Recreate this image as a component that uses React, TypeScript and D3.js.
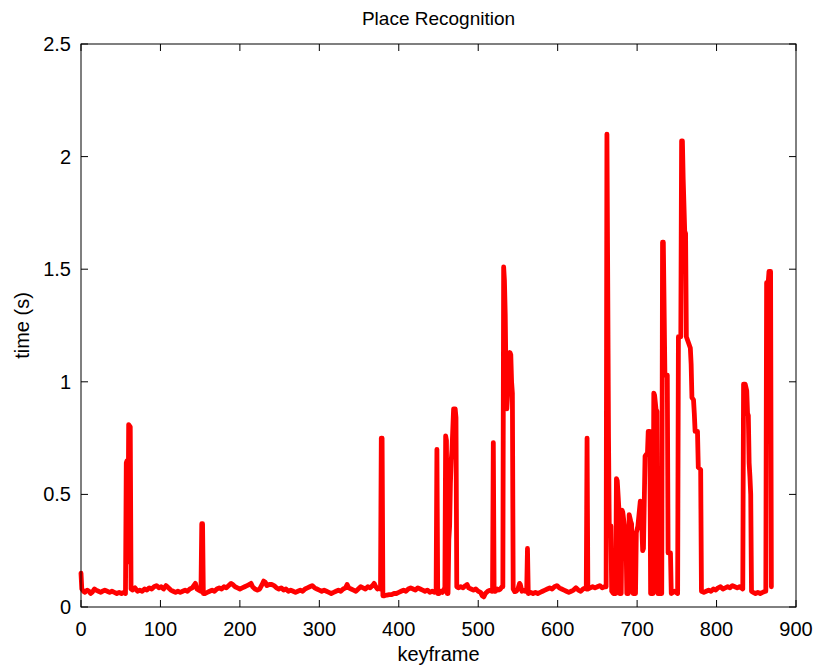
import React from "react";
import * as d3 from "d3";

// [keyframe, time (s)] samples, split by range
const keyframes0to300: [number, number][] = [
  [0,0.15],[1,0.08],[3,0.07],[5,0.065],[8,0.075],[10,0.07],[12,0.06],[14,0.065],[17,0.08],[19,0.075],
  [22,0.07],[25,0.065],[27,0.07],[30,0.075],[33,0.07],[36,0.065],[39,0.07],[42,0.065],[45,0.06],[48,0.065],
  [51,0.06],[54,0.065],[56,0.06],[57,0.64],[58,0.65],[59,0.2],[60,0.81],[62,0.80],[63,0.08],[65,0.075],
  [68,0.085],[71,0.07],[74,0.075],[77,0.07],[80,0.08],[83,0.075],[86,0.085],[89,0.08],[92,0.09],[95,0.095],
  [98,0.085],[101,0.09],[104,0.08],[107,0.095],[110,0.085],[113,0.075],[116,0.07],[119,0.065],[122,0.07],
  [125,0.065],[128,0.07],[131,0.075],[134,0.07],[137,0.08],[140,0.085],[142,0.095],[144,0.105],[146,0.08],
  [148,0.075],[151,0.07],[152,0.37],[153,0.37],[154,0.06],[156,0.06],[159,0.065],[162,0.07],[165,0.075],
  [168,0.07],[171,0.08],[174,0.085],[177,0.08],[180,0.09],[183,0.085],[186,0.095],[189,0.105],[191,0.1],
  [194,0.09],[197,0.085],[200,0.08],[203,0.085],[206,0.09],[209,0.095],[212,0.1],[214,0.105],[216,0.09],
  [219,0.08],[222,0.075],[225,0.08],[228,0.1],[230,0.115],[232,0.11],[234,0.095],[237,0.1],[240,0.1],
  [243,0.095],[246,0.085],[249,0.08],[252,0.085],[255,0.075],[258,0.08],[261,0.07],[264,0.075],[267,0.07],
  [270,0.065],[273,0.07],[276,0.075],[279,0.07],[282,0.08],[285,0.085],[288,0.09],[291,0.095],[294,0.085],
  [297,0.08],
];

const keyframes300to600: [number, number][] = [
  [300,0.075],[303,0.07],[306,0.075],[309,0.07],[312,0.065],[315,0.06],[318,0.065],[321,0.07],[324,0.075],
  [327,0.07],[330,0.08],[333,0.085],[335,0.1],[337,0.085],[340,0.08],[343,0.075],[346,0.07],[349,0.08],
  [352,0.09],[355,0.085],[358,0.08],[361,0.09],[364,0.085],[367,0.095],[369,0.105],[371,0.09],[373,0.08],
  [375,0.085],[377,0.08],[378,0.75],[379,0.75],[380,0.05],[382,0.05],[385,0.053],[388,0.055],[391,0.055],
  [394,0.06],[397,0.06],[400,0.065],[403,0.07],[406,0.075],[409,0.07],[412,0.08],[415,0.085],[418,0.08],
  [421,0.075],[424,0.085],[427,0.08],[430,0.075],[433,0.07],[436,0.075],[439,0.065],[442,0.07],[445,0.065],
  [447,0.07],[448,0.70],[449,0.06],[451,0.06],[453,0.07],[455,0.065],[457,0.08],[458,0.08],[459,0.76],
  [460,0.74],[461,0.06],[462,0.06],[463,0.3],[464,0.36],[465,0.55],[466,0.65],[467,0.70],[469,0.88],
  [471,0.88],[472,0.84],[473,0.09],[475,0.085],[478,0.09],[481,0.085],[484,0.095],[486,0.1],[488,0.085],
  [491,0.08],[494,0.075],[497,0.08],[500,0.07],[503,0.065],[505,0.05],[507,0.045],[509,0.06],[512,0.07],
  [515,0.075],[517,0.07],[518,0.07],[519,0.73],[520,0.07],[522,0.07],[524,0.08],[526,0.075],[528,0.08],
  [530,0.09],[531,0.09],[532,1.51],[533,1.45],[534,1.3],[535,1.0],[536,0.88],[538,1.0],[540,1.13],
  [541,1.12],[542,1.0],[543,0.95],[544,0.08],[546,0.068],[548,0.07],[550,0.08],[552,0.105],[553,0.1],
  [555,0.07],[557,0.075],[559,0.07],[561,0.07],[562,0.26],[563,0.06],[566,0.065],[569,0.06],[572,0.065],
  [575,0.06],[578,0.065],[581,0.07],[584,0.075],[587,0.08],[590,0.085],[593,0.08],[596,0.09],[599,0.095],
];

const keyframes600to870: [number, number][] = [
  [602,0.085],[605,0.08],[608,0.075],[611,0.07],[614,0.065],[617,0.07],[620,0.075],[623,0.085],[626,0.075],
  [629,0.07],[632,0.08],[635,0.085],[636,0.08],[637,0.75],[638,0.08],[641,0.085],[644,0.09],[647,0.085],
  [650,0.09],[653,0.095],[656,0.085],[659,0.09],[661,0.09],[662,2.10],[663,1.45],[664,0.75],[665,0.33],
  [667,0.36],[668,0.07],[670,0.06],[672,0.06],[673,0.06],[674,0.57],[675,0.56],[677,0.44],[678,0.06],
  [680,0.06],[681,0.43],[682,0.42],[684,0.36],[686,0.33],[687,0.06],[689,0.06],[690,0.41],[692,0.38],
  [693,0.37],[695,0.06],[698,0.06],[699,0.33],[701,0.36],[704,0.47],[705,0.46],[707,0.25],[708,0.26],
  [710,0.67],[712,0.68],[713,0.68],[714,0.78],[716,0.78],[717,0.06],[720,0.06],[721,0.95],[722,0.94],
  [724,0.87],[725,0.87],[726,0.06],[731,0.06],[732,1.62],[733,1.62],[735,1.03],[738,1.03],[739,0.24],
  [742,0.24],[743,0.06],[747,0.07],[751,0.06],[752,1.2],[755,1.2],[756,2.07],[757,2.07],[758,1.9],
  [760,1.66],[761,1.66],[762,1.2],[765,1.17],[767,1.15],[768,1.08],[769,0.93],[771,0.92],[772,0.86],
  [773,0.78],[776,0.78],[777,0.62],[780,0.61],[781,0.07],[784,0.065],[787,0.07],[790,0.075],[793,0.07],
  [796,0.08],[799,0.075],[802,0.085],[805,0.09],[808,0.08],[811,0.085],[814,0.09],[817,0.085],[820,0.095],
  [823,0.09],[826,0.085],[829,0.09],[831,0.085],[833,0.08],[834,0.99],[836,0.99],[838,0.96],[839,0.86],
  [840,0.85],[841,0.64],[842,0.58],[843,0.5],[844,0.07],[846,0.065],[849,0.06],[852,0.065],[855,0.06],
  [858,0.065],[861,0.07],[862,0.07],[863,1.44],[865,1.44],[866,1.49],[868,1.49],[869,0.09],
];

const xTicks = [0, 100, 200, 300, 400, 500, 600, 700, 800, 900];
const yTicks = [0, 0.5, 1, 1.5, 2, 2.5];
const yTickLabels = ["0", "0.5", "1", "1.5", "2", "2.5"];

const W = 817;
const H = 668;
const M = { left: 81, right: 796, top: 44, bottom: 607 };
const FONT = "'Liberation Sans', Arial, Helvetica, sans-serif";

export default function App() {
  const data = [...keyframes0to300, ...keyframes300to600, ...keyframes600to870];
  const x = d3.scaleLinear().domain([0, 900]).range([M.left, M.right]);
  const y = d3.scaleLinear().domain([0, 2.5]).range([M.bottom, M.top]);
  const line = d3
    .line<[number, number]>()
    .x((d) => x(d[0]))
    .y((d) => y(d[1]));
  const tickLen = 7;

  return (
    <svg
      width={W}
      height={H}
      style={{ position: "absolute", left: 0, top: 0, background: "#fff" }}
      fontFamily={FONT}
    >
      <rect x={0} y={0} width={W} height={H} fill="#fff" />
      <path
        d={line(data) ?? ""}
        fill="none"
        stroke="#ff0000"
        strokeWidth={4.8}
        strokeLinejoin="round"
        strokeLinecap="round"
      />
      <rect
        x={M.left}
        y={M.top}
        width={M.right - M.left}
        height={M.bottom - M.top}
        fill="none"
        stroke="#000"
        strokeWidth={1}
      />
      {xTicks.map((t) => (
        <g key={"x" + t}>
          <line x1={x(t)} x2={x(t)} y1={M.bottom} y2={M.bottom - tickLen} stroke="#000" />
          <line x1={x(t)} x2={x(t)} y1={M.top} y2={M.top + tickLen} stroke="#000" />
          <text x={x(t)} y={636} fontSize={20} textAnchor="middle" fill="#000">
            {t}
          </text>
        </g>
      ))}
      {yTicks.map((t, i) => (
        <g key={"y" + t}>
          <line x1={M.left} x2={M.left + tickLen} y1={y(t)} y2={y(t)} stroke="#000" />
          <line x1={M.right} x2={M.right - tickLen} y1={y(t)} y2={y(t)} stroke="#000" />
          <text x={71} y={y(t) + 7} fontSize={20} textAnchor="end" fill="#000">
            {yTickLabels[i]}
          </text>
        </g>
      ))}
      <text x={(M.left + M.right) / 2} y={25} fontSize={19} textAnchor="middle" fill="#000">
        Place Recognition
      </text>
      <text x={(M.left + M.right) / 2} y={661} fontSize={20} textAnchor="middle" fill="#000">
        keyframe
      </text>
      <text
        transform={`translate(29, ${(M.top + M.bottom) / 2}) rotate(-90)`}
        fontSize={20}
        textAnchor="middle"
        fill="#000"
      >
        time (s)
      </text>
    </svg>
  );
}
